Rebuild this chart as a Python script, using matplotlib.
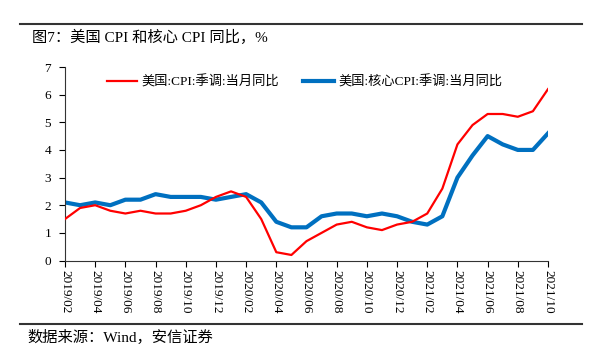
import matplotlib
matplotlib.use("Agg")
import matplotlib.pyplot as plt
from matplotlib.lines import Line2D

plt.rcParams['font.family'] = ['Liberation Serif', 'Noto Sans CJK SC', 'DejaVu Sans']

months = [f"{y}/{m:02d}" for y, m in
          [(2019, m) for m in range(2, 13)] + [(2020, m) for m in range(1, 13)] + [(2021, m) for m in range(1, 11)]]

cpi = [1.5, 1.9, 2.0, 1.8, 1.7, 1.8, 1.7, 1.7, 1.8, 2.0, 2.3,
       2.5, 2.3, 1.5, 0.3, 0.2, 0.7, 1.0, 1.3, 1.4, 1.2, 1.1, 1.3,
       1.4, 1.7, 2.6, 4.2, 4.9, 5.3, 5.3, 5.2, 5.4, 6.2]
core = [2.1, 2.0, 2.1, 2.0, 2.2, 2.2, 2.4, 2.3, 2.3, 2.3, 2.2,
        2.3, 2.4, 2.1, 1.4, 1.2, 1.2, 1.6, 1.7, 1.7, 1.6, 1.7, 1.6,
        1.4, 1.3, 1.6, 3.0, 3.8, 4.5, 4.2, 4.0, 4.0, 4.6]

title = "图7：美国 CPI 和核心 CPI 同比，%"
source = "数据来源：Wind，安信证券"
label_cpi = "美国:CPI:季调:当月同比"
label_core = "美国:核心CPI:季调:当月同比"

W, H = 589, 358
fig = plt.figure(figsize=(W / 100, H / 100), dpi=100)
ax = fig.add_axes([65 / W, 1 - 260.5 / H, (548 - 65) / W, (260.5 - 67) / H])

x = list(range(len(months)))
ax.plot(x, cpi, color='#FF0000', lw=1.6, zorder=3)
ax.plot(x, core, color='#0070C0', lw=3.0, zorder=2)

ax.set_xlim(0, len(months) - 1)
ax.set_ylim(0, 7)
ax.set_yticks(range(0, 8))
ax.set_xticks(x[::2])
ax.set_xticklabels(months[::2], rotation=-90, fontsize=9.5)
ax.tick_params(axis='y', labelsize=9.5, direction='out', length=4, width=0.8, pad=6)
ax.tick_params(axis='x', direction='out', length=4, width=0.8, pad=3)
for s in ['top', 'right']:
    ax.spines[s].set_visible(False)
for s in ['left', 'bottom']:
    ax.spines[s].set_linewidth(0.8)
    ax.spines[s].set_color('#333333')

handles = [Line2D([0], [0], color='#FF0000', lw=1.6), Line2D([0], [0], color='#0070C0', lw=3.0)]
leg = ax.legend(handles, [label_cpi, label_core], ncol=2, frameon=False,
                loc='upper left', bbox_to_anchor=(0.062, 1.02), fontsize=9.5,
                handlelength=2.3, handletextpad=0.35, columnspacing=1.8)

fig.add_artist(Line2D([20 / W, 582 / W], [1 - 24 / H, 1 - 24 / H], color='#333333', lw=1.5))
fig.add_artist(Line2D([20 / W, 582 / W], [1 - 324 / H, 1 - 324 / H], color='#333333', lw=1.5))
fig.text(32 / W, 1 - 37 / H, title, fontsize=11, va='center', ha='left')
fig.text(27 / W, 1 - 337 / H, source, fontsize=11, va='center', ha='left')

fig.savefig("out.png", dpi=100)
